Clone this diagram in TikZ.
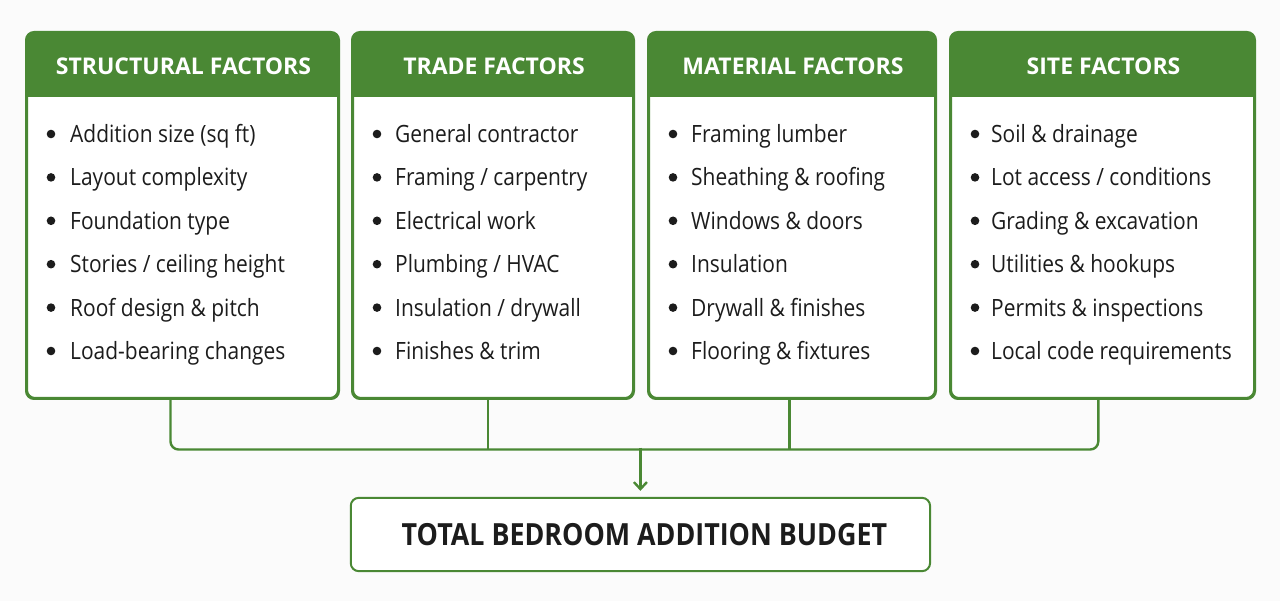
\documentclass[tikz,border=0pt]{standalone}
\usepackage{fontspec}
\setmainfont{Open Sans}
\newfontfamily\itemfont[FakeStretch=0.88]{Open Sans}
\usetikzlibrary{arrows.meta}
\definecolor{grn}{RGB}{74,136,52}
\definecolor{ink}{RGB}{28,28,28}
\definecolor{bg}{RGB}{251,251,251}
\tikzset{
  card/.style={draw=grn, line width=2pt, rounded corners=8pt, fill=white, anchor=north west, inner sep=0pt},
  headtext/.style={text=white, font=\fontsize{23}{26}\selectfont\bfseries, inner sep=0pt},
  itemtext/.style={text=ink, font=\itemfont\fontsize{23.8}{28}\selectfont, anchor=base west, inner sep=0pt},
  bul/.style={fill=ink},
  conn/.style={draw=grn, line width=2.4pt, rounded corners=8pt},
  arr/.style={draw=grn, line width=2.4pt, -{Straight Barb[length=7pt, width=13pt]}},
  total/.style={draw=grn, line width=2pt, rounded corners=8pt, fill=white, inner sep=0pt, text=ink, font=\itemfont\fontsize{30.5}{34}\selectfont\bfseries}
}
\begin{document}
\begin{tikzpicture}[x=1pt,y=-1pt]
\fill[bg] (0,0) rectangle (1280,601);
\useasboundingbox (0,0) rectangle (1280,601);

% cards
\foreach \n/\l/\r/\t in {1/26/337/STRUCTURAL FACTORS, 2/352/632/TRADE FACTORS, 3/648/934/MATERIAL FACTORS, 4/950/1253/SITE FACTORS}{
  \node[card, minimum width={(\r-\l)*1pt}, minimum height=365pt] (b\n) at (\l,32) {};
  \begin{scope}
    \clip[rounded corners=8pt] (b\n.north west) rectangle (b\n.south east);
    \fill[grn] (b\n.north west) rectangle ([yshift=-65pt]b\n.north east);
  \end{scope}
  \draw[grn, line width=2pt, rounded corners=8pt] (b\n.north west) rectangle (b\n.south east);
  \node[headtext] (h\n) at ({(\l+\r)/2+2}, 66.5) {\t};
}

% items
\foreach \i/\txt in {1/{Addition size (sq ft)}, 2/{Layout complexity}, 3/{Foundation type}, 4/{Stories / ceiling height}, 5/{Roof design \& pitch}, 6/{Load-bearing changes}}{
  \fill[bul] ({26+25}, {134+43.4*(\i-1)}) circle (4.3pt);
  \node[itemtext] (s\i) at ({26+44}, {142.5+43.4*(\i-1)}) {\txt};
}
\foreach \i/\txt in {1/{General contractor}, 2/{Framing / carpentry}, 3/{Electrical work}, 4/{Plumbing / HVAC}, 5/{Insulation / drywall}, 6/{Finishes \& trim}}{
  \fill[bul] ({352+25}, {134+43.4*(\i-1)}) circle (4.3pt);
  \node[itemtext] (t\i) at ({352+43}, {142.5+43.4*(\i-1)}) {\txt};
}
\foreach \i/\txt in {1/{Framing lumber}, 2/{Sheathing \& roofing}, 3/{Windows \& doors}, 4/{Insulation}, 5/{Drywall \& finishes}, 6/{Flooring \& fixtures}}{
  \fill[bul] ({648+25}, {134+43.4*(\i-1)}) circle (4.3pt);
  \node[itemtext] (m\i) at ({648+43}, {142.5+43.4*(\i-1)}) {\txt};
}
\foreach \i/\txt in {1/{Soil \& drainage}, 2/{Lot access / conditions}, 3/{Grading \& excavation}, 4/{Utilities \& hookups}, 5/{Permits \& inspections}, 6/{Local code requirements}}{
  \fill[bul] ({950+25}, {134+43.4*(\i-1)}) circle (4.3pt);
  \node[itemtext] (f\i) at ({950+41}, {142.5+43.4*(\i-1)}) {\txt};
}

% total
\node[total, minimum width=579.3pt, minimum height=73.3pt] (total) at (640.4,534.5) {\hspace{8pt}TOTAL BEDROOM ADDITION BUDGET};

% connectors
\draw[conn] ([xshift=-12pt]b1.south) -- ++(0,50.5) -| ([xshift=-4.2pt]b4.south);
\draw[conn] ([xshift=-5.3pt]b2.south) -- ++(0,50.5);
\draw[conn] ([xshift=-2.7pt]b3.south) -- ++(0,50.5);
\coordinate (split) at (640.4,447.5);
\draw[arr] (split) -- ([yshift=6pt]total.north);
\end{tikzpicture}
\end{document}
